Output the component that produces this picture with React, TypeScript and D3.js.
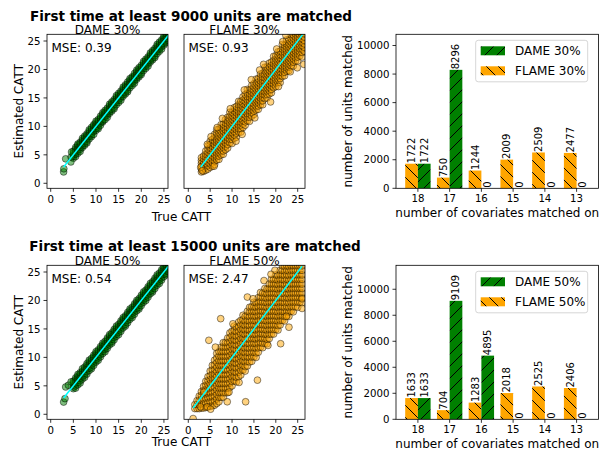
import React from 'react';
import * as d3 from 'd3';

const FONT = '"DejaVu Sans", "Liberation Sans", Arial, sans-serif';

// ---------- bar chart data ----------
const covariates = ['18', '17', '16', '15', '14', '13'];
const dame30Units = [1722, 8296, 0, 0, 0, 0];
const flame30Units = [1722, 750, 1244, 2009, 2509, 2477];
const dame50Units = [1633, 9109, 4895, 0, 0, 0];
const flame50Units = [1633, 704, 1283, 2018, 2525, 2406];
const barTicks = [0, 2000, 4000, 6000, 8000, 10000];
const cattTicks = [0, 5, 10, 15, 20, 25];

const rowTitles = ['First time at least 9000 units are matched', 'First time at least 15000 units are matched'];
const panelTitles = [['DAME 30%', 'FLAME 30%'], ['DAME 50%', 'FLAME 50%']];
const mseLabels = [['MSE: 0.39', 'MSE: 0.93'], ['MSE: 0.54', 'MSE: 2.47']];
const legendLabels = [['DAME 30%', 'FLAME 30%'], ['DAME 50%', 'FLAME 50%']];

// ---------- scatter data ----------
// each column: [true CATT, then (estimated - true) in tenths for each unit read at that x]
const dame30Cols = [
  [5, -6, -3, 0, 3, 6], [5.5, -8, -4, -1, 2, 5, 8], [6, -7, -3, 0, 4, 7, 9], [6.5, -9, -5, -2, 1, 4, 7],
  [7, -7, -4, -1, 3, 6, 9], [7.5, -8, -5, -1, 2, 5, 8], [8, -9, -6, -2, 1, 4, 7], [8.5, -7, -3, 0, 3, 6, 9],
  [9, -8, -5, -2, 2, 5, 8], [9.5, -9, -4, -1, 2, 6, 8], [10, -7, -4, 0, 3, 6, 9], [10.5, -9, -6, -2, 1, 4, 7],
  [11, -8, -4, -1, 3, 5, 8], [11.5, -7, -5, -2, 2, 6, 9], [12, -8, -3, 0, 3, 5, 8], [12.5, -9, -5, -2, 1, 4, 7],
  [13, -7, -4, -1, 2, 6, 9], [13.5, -8, -5, 0, 3, 5, 8], [14, -9, -6, -2, 1, 4, 7], [14.5, -7, -3, 0, 3, 6, 9],
  [15, -8, -4, -1, 2, 5, 8], [15.5, -9, -5, -2, 1, 4, 7], [16, -7, -4, 0, 3, 6, 9], [16.5, -8, -5, -1, 2, 5, 8],
  [17, -9, -6, -2, 1, 4, 8], [17.5, -7, -3, 0, 3, 6, 9], [18, -8, -4, -1, 2, 5, 7], [18.5, -9, -5, -2, 1, 4, 8],
  [19, -7, -4, 0, 3, 6, 9], [19.5, -8, -5, -1, 2, 5, 8], [20, -9, -6, -2, 1, 4, 7], [20.5, -7, -3, 0, 3, 6, 9],
  [21, -8, -4, -1, 2, 5, 8], [21.5, -9, -5, -2, 1, 4, 7], [22, -7, -4, 0, 3, 6, 9], [22.5, -8, -5, -1, 2, 5, 8],
  [23, -9, -6, -2, 1, 4, 7], [23.5, -7, -3, 0, 3, 6, 9], [24, -8, -4, -1, 2, 5, 8], [24.5, -9, -5, -2, 1, 4, 7],
  [25, -7, -4, 0, 3, 6, 9], [25.5, -8, -5, -1, 2, 5, 8], [26, -9, -6, -2, 1, 4, 7],
];
const dame30Extra = [[2.85, 2.0], [2.9, 2.55], [3.3, 4.3], [4.45, 3.75], [4.5, 4.6], [4.6, 5.5]];

const dame50Cols = [
  [5, -5, -2, 2, 5, 8], [5.5, -9, -5, -1, 3, 6, 9], [6, -8, -4, 0, 4, 7, 10], [6.5, -10, -6, -2, 1, 5, 8],
  [7, -8, -4, -1, 3, 6, 10], [7.5, -10, -6, -3, 1, 4, 8], [8, -9, -5, -1, 2, 6, 9], [8.5, -8, -4, 0, 3, 7, 10],
  [9, -10, -7, -3, 1, 4, 8], [9.5, -9, -5, -1, 3, 6, 9], [10, -8, -4, 0, 4, 7, 10], [10.5, -10, -6, -2, 1, 5, 8],
  [11, -9, -5, -1, 2, 6, 9], [11.5, -8, -4, 0, 4, 7, 10], [12, -10, -6, -3, 1, 4, 8], [12.5, -9, -5, -1, 3, 6, 9],
  [13, -8, -4, 0, 3, 7, 10], [13.5, -10, -7, -3, 1, 5, 8], [14, -9, -5, -1, 2, 6, 9], [14.5, -8, -4, 0, 4, 7, 10],
  [15, -10, -6, -2, 1, 4, 8], [15.5, -9, -5, -1, 3, 6, 9], [16, -8, -4, 0, 4, 7, 10], [16.5, -10, -7, -3, 1, 5, 8],
  [17, -9, -5, -1, 2, 6, 9], [17.5, -8, -4, 0, 3, 7, 10], [18, -10, -6, -2, 1, 4, 8], [18.5, -9, -5, -1, 3, 6, 9],
  [19, -8, -4, 0, 4, 7, 10], [19.5, -10, -7, -3, 1, 5, 8], [20, -9, -5, -1, 2, 6, 9], [20.5, -8, -4, 0, 3, 7, 10],
  [21, -10, -6, -2, 1, 4, 8], [21.5, -9, -5, -1, 3, 6, 9], [22, -8, -4, 0, 4, 7, 10], [22.5, -10, -7, -3, 1, 5, 8],
  [23, -9, -5, -1, 2, 6, 9], [23.5, -8, -4, 0, 3, 7, 10], [24, -10, -6, -2, 1, 4, 8], [24.5, -9, -5, -1, 3, 6, 9],
  [25, -8, -4, 0, 4, 7, 10], [25.5, -10, -7, -3, 1, 5, 8], [26, -9, -5, -1, 2, 6, 9],
];
const dame50Extra = [[2.85, 2.15], [3.15, 2.75], [3.3, 4.8], [3.9, 5.1], [4.5, 5.7]];

const flame30Cols = [
  [3, -10, -5, 0, 5, 10, 15], [3.5, -14, -8, -2, 3, 8, 13], [4, -17, -11, -5, 0, 6, 11, 17],
  [4.5, -20, -14, -8, -2, 4, 9, 15, 21], [5, -22, -16, -10, -4, 1, 7, 12, 18, 24],
  [5.5, -25, -19, -13, -7, -1, 5, 10, 16, 22], [6, -27, -21, -15, -9, -3, 3, 8, 14, 20, 26],
  [6.5, -24, -18, -12, -6, 0, 6, 11, 17, 23, 29], [7, -28, -22, -16, -10, -4, 2, 7, 13, 19, 25],
  [7.5, -25, -19, -13, -7, -1, 4, 10, 16, 22, 28], [8, -29, -23, -17, -11, -5, 1, 6, 12, 18, 24],
  [8.5, -26, -20, -14, -8, -2, 3, 9, 15, 21, 27], [9, -28, -22, -16, -10, -4, 2, 8, 14, 20, 26],
  [9.5, -24, -18, -12, -6, 0, 5, 11, 17, 23, 30], [10, -30, -23, -17, -11, -5, 1, 7, 13, 19, 25],
  [10.5, -26, -20, -14, -8, -2, 4, 10, 16, 22, 28], [11, -29, -22, -16, -10, -4, 2, 8, 14, 20, 25],
  [11.5, -25, -19, -13, -7, -1, 5, 11, 17, 23, 29], [12, -30, -24, -18, -12, -6, 0, 6, 12, 18, 24],
  [12.5, -27, -21, -15, -9, -3, 3, 9, 15, 21, 27], [13, -28, -22, -16, -10, -4, 2, 8, 14, 20, 26],
  [13.5, -25, -19, -13, -7, -1, 5, 11, 17, 23, 30], [14, -31, -24, -18, -12, -6, 0, 6, 12, 18, 24],
  [14.5, -27, -21, -15, -9, -3, 3, 9, 15, 21, 27], [15, -29, -23, -17, -11, -5, 1, 7, 13, 19, 25],
  [15.5, -26, -20, -14, -8, -2, 4, 10, 16, 22, 28], [16, -30, -24, -18, -12, -6, 0, 6, 12, 18, 24],
  [16.5, -27, -21, -15, -9, -3, 3, 9, 15, 21, 27], [17, -32, -25, -19, -13, -7, -1, 5, 11, 17, 23],
  [17.5, -26, -20, -14, -8, -2, 4, 10, 16, 22, 29], [18, -30, -24, -18, -12, -6, 0, 6, 12, 18, 24],
  [18.5, -28, -22, -16, -10, -4, 2, 8, 14, 20, 26], [19, -31, -25, -19, -13, -7, -1, 5, 11, 17, 23],
  [19.5, -27, -21, -15, -9, -3, 3, 9, 15, 21, 28], [20, -30, -24, -18, -12, -6, 0, 6, 12, 18, 24],
  [20.5, -28, -22, -16, -10, -4, 2, 8, 14, 20, 26], [21, -33, -26, -20, -14, -8, -2, 4, 10, 16, 22],
  [21.5, -27, -21, -15, -9, -3, 3, 9, 15, 21, 29], [22, -31, -25, -19, -13, -7, -1, 5, 11, 17, 23],
  [22.5, -28, -22, -16, -10, -4, 2, 8, 14, 20, 27], [23, -32, -26, -20, -14, -8, -2, 4, 10, 16, 22],
  [23.5, -29, -23, -17, -11, -5, 1, 7, 13, 19, 26], [24, -34, -27, -21, -15, -9, -3, 3, 9, 15, 21],
  [24.5, -30, -24, -18, -12, -6, 0, 6, 12, 18, 25], [25, -35, -28, -22, -16, -10, -4, 2, 8, 14, 20],
  [25.5, -31, -25, -19, -13, -7, -1, 5, 11, 17], [26, -38, -30, -24, -18, -12, -6, 0, 6, 12],
  [26.5, -33, -26, -20, -14, -8, -2, 4],
];
const flame30Extra = [
  [2.85, 2.8], [3.2, 2.2], [5.9, 3.0], [4.35, 6.85], [6.6, 9.8], [9.6, 13.1], [14.4, 18.2],
  [17.2, 20.9], [18.8, 14.3], [12.3, 8.6], [24.9, 20.3], [22.3, 26.0], [21.6, 24.9], [20.2, 23.6], [26.4, 20.9],
  [7.8, 11.4], [10.9, 7.4], [15.2, 11.5], [20.6, 17.0], [16.3, 19.9], [5.2, 8.2], [12.8, 16.4], [23.3, 19.6],
];

const flame50Cols = [
  [1.5, -5, 2], [2, -10, -3, 4], [2.5, -15, -8, 0, 7], [3, -19, -12, -4, 3, 10],
  [3.5, -24, -16, -8, 0, 7, 14], [4, -28, -20, -12, -4, 4, 11, 18],
  [4.5, -32, -24, -16, -8, 0, 7, 14, 21], [5, -36, -28, -20, -12, -4, 4, 11, 18, 26],
  [5.5, -40, -32, -24, -16, -8, 0, 8, 15, 23, 31], [6, -44, -36, -28, -20, -12, -4, 4, 11, 19, 27, 35],
  [6.5, -46, -38, -30, -22, -14, -6, 2, 10, 18, 26, 34, 42], [7, -48, -40, -32, -24, -16, -8, 0, 8, 16, 24, 32, 40],
  [7.5, -45, -37, -29, -21, -13, -5, 3, 11, 19, 27, 35, 43],
  [8, -50, -42, -34, -26, -18, -10, -2, 6, 14, 22, 30, 38, 46],
  [8.5, -47, -39, -31, -23, -15, -7, 1, 9, 17, 25, 33, 41],
  [9, -52, -44, -36, -28, -20, -12, -4, 4, 12, 20, 28, 36, 44],
  [9.5, -48, -40, -32, -24, -16, -8, 0, 8, 16, 24, 32, 40, 48],
  [10, -50, -42, -34, -26, -18, -10, -2, 6, 14, 22, 30, 38, 46],
  [10.5, -46, -38, -30, -22, -14, -6, 2, 10, 18, 26, 34, 42, 50],
  [11, -53, -45, -37, -29, -21, -13, -5, 3, 11, 19, 27, 35, 43],
  [11.5, -49, -41, -33, -25, -17, -9, -1, 7, 15, 23, 31, 39, 47],
  [12, -51, -43, -35, -27, -19, -11, -3, 5, 13, 21, 29, 37, 45],
  [12.5, -47, -39, -31, -23, -15, -7, 1, 9, 17, 25, 33, 41, 49],
  [13, -54, -46, -38, -30, -22, -14, -6, 2, 10, 18, 26, 34, 42],
  [13.5, -50, -42, -34, -26, -18, -10, -2, 6, 14, 22, 30, 38, 46],
  [14, -48, -40, -32, -24, -16, -8, 0, 8, 16, 24, 32, 40, 48],
  [14.5, -52, -44, -36, -28, -20, -12, -4, 4, 12, 20, 28, 36, 44],
  [15, -49, -41, -33, -25, -17, -9, -1, 7, 15, 23, 31, 39, 47],
  [15.5, -55, -47, -39, -31, -23, -15, -7, 1, 9, 17, 25, 33, 41],
  [16, -51, -43, -35, -27, -19, -11, -3, 5, 13, 21, 29, 37, 45],
  [16.5, -47, -39, -31, -23, -15, -7, 1, 9, 17, 25, 33, 41, 49],
  [17, -53, -45, -37, -29, -21, -13, -5, 3, 11, 19, 27, 35, 43],
  [17.5, -50, -42, -34, -26, -18, -10, -2, 6, 14, 22, 30, 38, 46],
  [18, -56, -48, -40, -32, -24, -16, -8, 0, 8, 16, 24, 32, 40],
  [18.5, -52, -44, -36, -28, -20, -12, -4, 4, 12, 20, 28, 36, 44],
  [19, -49, -41, -33, -25, -17, -9, -1, 7, 15, 23, 31, 39, 47],
  [19.5, -54, -46, -38, -30, -22, -14, -6, 2, 10, 18, 26, 34, 42],
  [20, -51, -43, -35, -27, -19, -11, -3, 5, 13, 21, 29, 37, 45],
  [20.5, -57, -49, -41, -33, -25, -17, -9, -1, 7, 15, 23, 31, 39],
  [21, -53, -45, -37, -29, -21, -13, -5, 3, 11, 19, 27, 35, 43],
  [21.5, -50, -42, -34, -26, -18, -10, -2, 6, 14, 22, 30, 38, 46],
  [22, -56, -48, -40, -32, -24, -16, -8, 0, 8, 16, 24, 32, 40],
  [22.5, -52, -44, -36, -28, -20, -12, -4, 4, 12, 20, 28, 36],
  [23, -58, -50, -42, -34, -26, -18, -10, -2, 6, 14, 22, 30, 38],
  [23.5, -54, -46, -38, -30, -22, -14, -6, 2, 10, 18, 26, 34],
  [24, -60, -51, -43, -35, -27, -19, -11, -3, 5, 13, 21, 29],
  [24.5, -56, -48, -40, -32, -24, -16, -8, 0, 8, 16, 24],
  [25, -62, -53, -45, -37, -29, -21, -13, -5, 3, 11, 19],
  [25.5, -58, -50, -42, -34, -26, -18, -10, -2, 6, 14],
  [26, -64, -55, -47, -39, -31, -23, -15, -7, 1, 9],
];
const flame50Extra = [
  [1.1, -0.75], [2.8, 1.3], [4.3, 1.3], [8.9, 2.2], [13.1, 2.2], [15.8, 6.0], [4.7, 13.0],
  [7.4, 16.8], [13.5, 20.6], [17.3, 23.5], [23.0, 15.3], [21.1, 12.4], [26.0, 20.3], [26.0, 18.6],
  [3.6, 3.9], [19.8, 25.3], [18.9, 24.6],
  [6.2, 11.8], [10.2, 15.9], [11.6, 5.6], [18.2, 12.1], [22.4, 17.2], [14.8, 20.3], [9.3, 3.9], [5.1, 0.9],
];

type Pt = [number, number];

function expand(cols: number[][], extra: number[][]): Pt[] {
  const out: Pt[] = [];
  cols.forEach((c) => {
    const x = c[0];
    for (let i = 1; i < c.length; i++) out.push([x, x + c[i] / 10]);
  });
  extra.forEach((e) => out.push([e[0], e[1]]));
  return out;
}

const GREEN = '#008000';
const ORANGE = '#ffa500';
const HATCH = 12;

function Scatter(props: any) {
  const { left, right, top, bottom, xDomain, yDomain, pts, color, title, mse, showY, id } = props;
  const x = d3.scaleLinear().domain(xDomain).range([left, right]);
  const y = d3.scaleLinear().domain(yDomain).range([bottom, top]);
  const ext = d3.extent(pts as Pt[], (d) => d[0]) as [number, number];
  return (
    <g>
      <defs>
        <clipPath id={id}>
          <rect x={left} y={top} width={right - left} height={bottom - top} />
        </clipPath>
      </defs>
      <g clipPath={`url(#${id})`}>
        {(pts as Pt[]).map((p, i) => (
          <circle key={i} cx={x(p[0])} cy={y(p[1])} r={3.4} fill={color} fillOpacity={0.5}
            stroke="#000" strokeOpacity={0.45} strokeWidth={1} />
        ))}
        <line x1={x(ext[0])} y1={y(ext[0])} x2={x(ext[1])} y2={y(ext[1])} stroke="#00ffff" strokeWidth={1.5} />
      </g>
      <rect x={left} y={top} width={right - left} height={bottom - top} fill="none" stroke="#000" strokeWidth={0.8} />
      {cattTicks.map((t) => (
        <g key={'x' + t}>
          <line x1={x(t)} x2={x(t)} y1={bottom} y2={bottom + 3.5} stroke="#000" strokeWidth={0.8} />
          <text x={x(t)} y={bottom + 14.5} textAnchor="middle" fontSize={10.2}>{t}</text>
        </g>
      ))}
      {showY && cattTicks.map((t) => (
        <g key={'y' + t}>
          <line x1={left - 3.5} x2={left} y1={y(t)} y2={y(t)} stroke="#000" strokeWidth={0.8} />
          <text x={left - 6.5} y={y(t) + 3.7} textAnchor="end" fontSize={10.2}>{t}</text>
        </g>
      ))}
      <text x={(left + right) / 2} y={top - 0.8} textAnchor="middle" fontSize={12}>{title}</text>
      <text x={left + 4.5} y={top + 17.5} fontSize={12}>{mse}</text>
    </g>
  );
}

function Bars(props: any) {
  const { left, right, top, bottom, dame, flame, labels } = props;
  const x = d3.scaleLinear().domain([-0.69, 5.69]).range([left, right]);
  const ymax = (d3.max([...dame, ...flame]) as number) * 1.3;
  const y = d3.scaleLinear().domain([0, ymax]).range([bottom, top]);
  const w = 0.4;
  const lt = top + 6;
  return (
    <g>
      {covariates.map((c, i) => (
        <g key={c}>
          {flame[i] > 0 && (
            <rect x={x(i - w)} y={y(flame[i])} width={x(i) - x(i - w)} height={y(0) - y(flame[i])} fill="url(#hatchFlame)" />
          )}
          {dame[i] > 0 && (
            <rect x={x(i)} y={y(dame[i])} width={x(i + w) - x(i)} height={y(0) - y(dame[i])} fill="url(#hatchDame)" />
          )}
        </g>
      ))}
      {covariates.map((c, i) => (
        <g key={'l' + c}>
          <text transform={`translate(${x(i - w / 2)},${y(flame[i]) - 0.5}) rotate(-90)`} dominantBaseline="central" fontSize={10}>{flame[i]}</text>
          <text transform={`translate(${x(i + w / 2)},${y(dame[i]) - 0.5}) rotate(-90)`} dominantBaseline="central" fontSize={10}>{dame[i]}</text>
        </g>
      ))}
      <rect x={left} y={top} width={right - left} height={bottom - top} fill="none" stroke="#000" strokeWidth={0.8} />
      {barTicks.map((t) => (
        <g key={'y' + t}>
          <line x1={left - 3.5} x2={left} y1={y(t)} y2={y(t)} stroke="#000" strokeWidth={0.8} />
          <text x={left - 6.5} y={y(t) + 3.7} textAnchor="end" fontSize={10.2}>{t}</text>
        </g>
      ))}
      {covariates.map((c, i) => (
        <g key={'x' + c}>
          <line x1={x(i)} x2={x(i)} y1={bottom} y2={bottom + 3.5} stroke="#000" strokeWidth={0.8} />
          <text x={x(i)} y={bottom + 13.3} textAnchor="middle" fontSize={10.2}>{c}</text>
        </g>
      ))}
      <rect x={475.7} y={lt} width={112} height={41.5} rx={2.5} fill="#fff" fillOpacity={0.8} stroke="#cccccc" strokeWidth={0.8} />
      <rect x={480.7} y={top + 12} width={24.3} height={9} fill="url(#hatchDame)" />
      <text x={515} y={top + 20.9} fontSize={12}>{labels[0]}</text>
      <rect x={480.7} y={top + 32} width={24.3} height={9} fill="url(#hatchFlame)" />
      <text x={515} y={top + 40.9} fontSize={12}>{labels[1]}</text>
    </g>
  );
}

export default function App() {
  const rows = [
    { top: 34.3, bottom: 188.3, titleY: 20.5, titleX: 191, trueY: 220.5, covY: 216.7 },
    { top: 265.3, bottom: 419.3, titleY: 250.5, titleX: 195, trueY: 445.5, covY: 447.5 },
  ];
  const yDomain = [-0.88, 26.18];
  const data = [
    [expand(dame30Cols, dame30Extra), expand(flame30Cols, flame30Extra)],
    [expand(dame50Cols, dame50Extra), expand(flame50Cols, flame50Extra)],
  ];
  const barData = [[dame30Units, flame30Units], [dame50Units, flame50Units]];
  return (
    <svg width={600} height={453} style={{ position: 'absolute', left: 0, top: 0, background: '#fff' }}
      fontFamily={FONT} fill="#000">
      <defs>
        <pattern id="hatchDame" patternUnits="userSpaceOnUse" width={HATCH} height={HATCH}>
          <rect width={HATCH} height={HATCH} fill={GREEN} />
          <path d={`M0,${HATCH} L${HATCH},0 M-1,1 L1,-1 M${HATCH - 1},${HATCH + 1} L${HATCH + 1},${HATCH - 1}`} stroke="#000" strokeWidth={1} />
        </pattern>
        <pattern id="hatchFlame" patternUnits="userSpaceOnUse" width={HATCH} height={HATCH}>
          <rect width={HATCH} height={HATCH} fill={ORANGE} />
          <path d={`M0,0 L${HATCH},${HATCH} M-1,${HATCH - 1} L1,${HATCH + 1} M${HATCH - 1},-1 L${HATCH + 1},1`} stroke="#000" strokeWidth={1} />
        </pattern>
      </defs>
      <rect width={600} height={453} fill="#fff" />
      {rows.map((r, ri) => (
        <g key={ri}>
          <text x={r.titleX} y={r.titleY} textAnchor="middle" fontSize={13.5} fontWeight="bold">{rowTitles[ri]}</text>
          <Scatter id={`clipA${ri}`} left={47} right={168} top={r.top} bottom={r.bottom}
            xDomain={[-0.82, 25.9]} yDomain={yDomain} pts={data[ri][0]} color={GREEN}
            title={panelTitles[ri][0]} mse={mseLabels[ri][0]} showY={true} />
          <Scatter id={`clipB${ri}`} left={184} right={305} top={r.top} bottom={r.bottom}
            xDomain={[-0.98, 26.67]} yDomain={yDomain} pts={data[ri][1]} color={ORANGE}
            title={panelTitles[ri][1]} mse={mseLabels[ri][1]} showY={false} />
          <text transform={`translate(22.5,${(r.top + r.bottom) / 2}) rotate(-90)`} textAnchor="middle" fontSize={12}>Estimated CATT</text>
          <text x={181.5} y={r.trueY} textAnchor="middle" fontSize={12}>True CATT</text>
          <Bars left={396} right={598.5} top={r.top} bottom={r.bottom} dame={barData[ri][0]} flame={barData[ri][1]} labels={legendLabels[ri]} />
          <text transform={`translate(351.5,${(r.top + r.bottom) / 2}) rotate(-90)`} textAnchor="middle" fontSize={12}>number of units matched</text>
          <text x={497.25} y={r.covY} textAnchor="middle" fontSize={12}>number of covariates matched on</text>
        </g>
      ))}
    </svg>
  );
}
